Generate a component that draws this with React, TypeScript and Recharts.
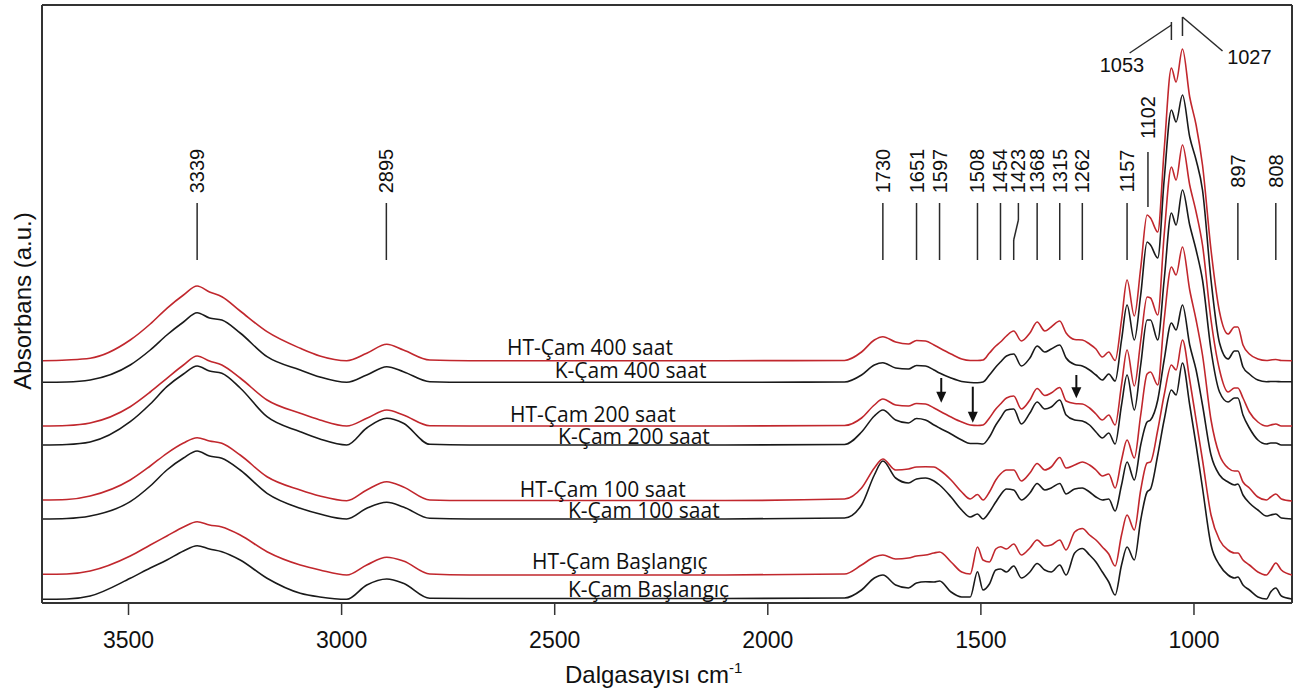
import React from 'react';
import { LineChart, Line, XAxis, YAxis, ReferenceLine, ReferenceDot, Label } from 'recharts';

// Wavenumber grid (cm-1), high to low
const wavenumbers = [3703, 3645, 3590, 3496, 3449, 3410, 3371, 3339, 3310, 3281, 3238, 3175, 3097, 3051, 2988, 2941, 2894, 2855, 2793, 2700, 2400, 2100, 1820, 1780, 1750, 1730, 1700, 1670, 1651, 1630, 1610, 1597, 1570, 1545, 1525, 1508, 1495, 1480, 1465, 1454, 1440, 1423, 1405, 1385, 1368, 1350, 1335, 1315, 1300, 1280, 1262, 1245, 1230, 1215, 1200, 1185, 1170, 1157, 1140, 1125, 1110, 1102, 1085, 1070, 1053, 1042, 1027, 1010, 995, 980, 960, 940, 920, 905, 897, 885, 870, 850, 830, 820, 808, 795, 770];

// Stacked absorbance traces (a.u., offset as in the figure)
const htCam400 = [242.3, 243, 244.7, 263, 279, 294.7, 308, 317, 311, 306.3, 292, 271.3, 254.7, 247, 242.3, 249.7, 258.7, 253, 243, 242.3, 242.3, 242.3, 242.5, 251, 263, 266.3, 261, 259, 262.5, 262, 258, 255, 249, 244, 242.5, 242.5, 243, 250, 257, 261, 267, 272, 262, 270, 281, 272, 276, 282, 270, 263.5, 263, 259, 254, 246, 251, 242.5, 283, 323, 287, 335, 388, 385, 371, 453, 535, 521, 554, 506, 478, 438, 353, 291, 269, 276, 276, 258, 249, 244, 242.5, 243, 243.5, 242.5, 242.3];
const kCam400 = [220.7, 221, 223, 238, 253, 268, 281, 290.3, 285, 283, 270, 246.3, 233, 226, 220.7, 228, 236.3, 231.3, 221.3, 220.7, 220.7, 220.7, 221, 228, 238, 240.3, 235, 234, 237.5, 237, 233, 230, 225, 221.5, 220.5, 220.3, 221, 228, 236, 241, 247, 249, 237, 245, 257, 251, 254, 258, 245, 238.5, 237, 233, 228, 223, 229, 222, 263, 298, 263, 308, 361, 358, 345, 423, 493, 481, 508, 466, 443, 413, 323, 260, 244, 252, 252, 236, 229, 223, 221.3, 221.5, 221.5, 221.3, 221.3];
const htCam200 = [177, 177.5, 180, 196.3, 211, 224.7, 238, 247, 242, 238, 225, 203, 189.7, 183, 177, 184.7, 193, 188, 177.3, 177, 177, 177, 177.5, 185, 198, 204, 198, 197, 199.5, 199, 195, 192, 186, 181, 178, 177.5, 178, 185, 194, 199, 205, 207, 194, 203, 214.5, 207.5, 210, 215.5, 202, 199.5, 199, 195, 189, 183, 188, 178, 218, 253, 217, 262, 306, 305, 288, 368, 436, 423, 458, 418, 391, 358, 283, 233, 211, 215, 215, 205, 191, 181, 177, 178, 179, 177, 177];
const kCam200 = [158, 158.5, 161, 181.3, 199, 216.3, 229, 237, 232, 229.7, 215, 186.3, 171.3, 164, 158, 175, 184.7, 179.7, 158.7, 158, 158, 158, 158.5, 171, 187, 193, 183, 180, 184.5, 183, 178, 175, 169, 163, 159.5, 159.5, 159, 166, 178, 185, 193, 194, 179, 190, 201, 194, 196, 203, 188, 183, 182, 178, 171, 165, 170, 159, 198, 228, 193, 238, 283, 283, 263, 323, 390, 378, 413, 378, 353, 323, 253, 211, 201, 205, 205, 188, 175, 163, 159, 160, 160, 158, 158];
const htCam100 = [103, 103.5, 107, 123, 137, 149.7, 160, 165.3, 162, 159.7, 148, 126.3, 113, 107, 102.3, 113, 121.3, 116, 103, 102.5, 102.5, 102.5, 104, 115, 135, 144, 133, 134, 136, 136.3, 136, 133, 123, 111, 104, 108.5, 103, 111, 123, 129, 133, 133, 122, 130, 139.5, 133, 136, 145.5, 135, 138, 141, 138, 133, 127, 129, 115, 143, 163, 145, 188, 229, 231, 218, 283, 336, 328, 356, 313, 283, 248, 183, 148, 135, 132, 132, 121, 115, 106, 103, 106, 109, 104, 102];
const kCam100 = [84, 84.5, 87, 101.3, 117, 133, 145, 152, 147, 144.7, 133, 109.7, 94.7, 89, 84, 94.7, 100.7, 96, 84.7, 84, 84, 84, 85, 98, 128, 142, 125, 120, 124, 125, 122, 118, 106, 93, 86, 89, 84, 91, 101, 108, 114, 113, 103, 110, 119.5, 113, 115, 119.5, 109, 114, 115, 111, 106, 103, 104, 92, 118, 141, 123, 158, 181, 183, 203, 243, 280, 273, 298, 258, 233, 198, 148, 128, 121, 118, 119, 108, 100, 93, 87, 88, 89, 85, 84];
const htCamStart = [28.7, 29, 32, 47, 58, 67, 76, 81.3, 78, 76, 68, 51.3, 38, 33, 28, 38, 45.7, 42, 29, 28, 28, 28, 29, 38, 46, 48, 44, 45, 47, 48, 50, 51, 41, 31, 29, 56, 43, 41, 54, 56.3, 54, 59, 48, 55, 63, 57, 58, 63, 53, 71, 74.5, 68, 63, 56, 49, 37, 68, 88, 73, 113, 140, 141, 173, 208, 238, 233, 263, 223, 183, 143, 88, 63, 53, 50, 50, 43, 38, 31, 28, 33, 40, 33, 28];
const kCamStart = [3.7, 4, 7, 24.7, 35, 43, 52, 57.3, 54, 51.3, 43, 24.7, 9.7, 6, 3.7, 18, 24, 19.7, 4.7, 4.5, 4.5, 4.5, 5, 13, 25, 28, 18, 15, 20, 21.3, 21, 22, 11, 6, 6, 31.3, 13, 19, 33, 34, 31, 37, 25, 31, 39.5, 33, 31, 38, 28, 50, 54.5, 48, 41, 31, 21, 8, 38, 56, 43, 83, 111, 114, 148, 183, 213, 208, 240, 198, 158, 115, 58, 38, 28, 25, 26, 18, 13, 6, 4, 11, 15, 7, 4];

const seriesNames = ['HT-Çam 400 saat', 'K-Çam 400 saat', 'HT-Çam 200 saat', 'K-Çam 200 saat', 'HT-Çam 100 saat', 'K-Çam 100 saat', 'HT-Çam Başlangıç', 'K-Çam Başlangıç'];
const seriesValues = [htCam400, kCam400, htCam200, kCam200, htCam100, kCam100, htCamStart, kCamStart];
// label anchor (left end of text, baseline) in data units
const seriesLabelX = [2612, 2500, 2605, 2492, 2582, 2469, 2553, 2469];
const seriesLabelY = [248, 225, 181, 159, 106, 85, 34, 6];

const xTicks = [3500, 3000, 2500, 2000, 1500, 1000];

// band markers
const markerLabels = ['3339', '2895', '1730', '1651', '1597', '1508', '1454', '1368', '1315', '1262', '1157', '897', '808'];
const markerX = [3339, 2895, 1730, 1651, 1597, 1508, 1454, 1368, 1315, 1262, 1157, 897, 808];

const RED = '#c1272d';
const BLACK = '#1a1a1a';
const INK = '#2a2a2a';
const NUM_FONT = '"Liberation Sans", Arial, Helvetica, sans-serif';

const rows = wavenumbers.map((w, i) => {
  const r: Record<string, number> = { w };
  seriesValues.forEach((s, k) => { r['s' + k] = s[i]; });
  return r;
});

const plainLine = (p: any) => (
  <line x1={p.x1} y1={p.y1} x2={p.x2} y2={p.y2} stroke={INK} strokeWidth={1.5} />
);

const arrowShape = (p: any) => {
  const { x1, y1, x2, y2 } = p;
  return (
    <g>
      <line x1={x1} y1={y1} x2={x2} y2={y2 - 8} stroke="#111" strokeWidth={2} />
      <path d={`M${x2 - 5},${y2 - 11} L${x2 + 5},${y2 - 11} L${x2},${y2} Z`} fill="#111" />
    </g>
  );
};

const rotatedText = (label: string) => (p: any) => (
  <text
    x={p.cx}
    y={p.cy}
    transform={`rotate(-90 ${p.cx} ${p.cy})`}
    textAnchor="middle"
    dominantBaseline="central"
    fontSize={20}
    fontFamily={NUM_FONT}
    fill="#111"
  >
    {label}
  </text>
);

const flatText = (label: string) => (p: any) => (
  <text x={p.cx} y={p.cy} textAnchor="middle" fontSize={20} fontFamily={NUM_FONT} fill="#111">
    {label}
  </text>
);

const seriesText = (label: string) => (p: any) => (
  <text x={p.cx} y={p.cy} textAnchor="start" fontSize={21} fontFamily='"Open Sans", "Noto Sans", sans-serif' fill="#111">
    {label}
  </text>
);

export default function App() {
  return (
    <div style={{ position: 'absolute', left: 0, top: 0, width: 1301, height: 692, background: '#fff' }}>
      <LineChart width={1301} height={692} data={rows} margin={{ top: 5, right: 9, bottom: 0, left: 0 }}>
        <XAxis
          type="number"
          dataKey="w"
          domain={[770, 3703]}
          reversed
          allowDataOverflow
          ticks={xTicks}
          interval={0}
          height={89}
          tickSize={12}
          tickMargin={17}
          tick={{ fontSize: 23, fill: '#111', fontFamily: NUM_FONT }}
          axisLine={{ stroke: '#333', strokeWidth: 2 }}
          tickLine={{ stroke: '#333', strokeWidth: 1.5 }}
        >
          <Label
            content={(props: any) => {
              const vb = props.viewBox || { x: 42, y: 603, width: 1250 };
              const x0 = vb.x + vb.width / 2 - 102;
              const y0 = vb.y + 80;
              return (
                <text x={x0} y={y0} fontSize={24} fontFamily={NUM_FONT} fill="#111">
                  Dalgasayısı cm
                  <tspan dy={-10} fontSize={15}>-1</tspan>
                </text>
              );
            }}
          />
        </XAxis>
        <YAxis
          type="number"
          domain={[0, 598]}
          allowDataOverflow
          width={42}
          tick={false}
          tickLine={false}
          axisLine={{ stroke: '#333', strokeWidth: 2 }}
        >
          <Label
            content={(props: any) => {
              const vb = props.viewBox || { x: 0, y: 5, width: 42, height: 598 };
              const cx = vb.x + 22;
              const cy = vb.y + vb.height / 2 - 3;
              return (
                <text
                  x={cx}
                  y={cy}
                  transform={`rotate(-90 ${cx} ${cy})`}
                  textAnchor="middle"
                  dominantBaseline="central"
                  fontSize={24}
                  fontFamily={NUM_FONT}
                  fill="#111"
                >
                  Absorbans (a.u.)
                </text>
              );
            }}
          />
        </YAxis>

        {/* frame: top and right */}
        <ReferenceLine y={598} stroke="#333" strokeWidth={2} />
        <ReferenceLine x={770} stroke="#333" strokeWidth={2} />

        {seriesValues.map((_, k) => (
          <Line
            key={k}
            type="monotone"
            dataKey={'s' + k}
            stroke={k % 2 === 0 ? RED : BLACK}
            strokeWidth={1.6}
            dot={false}
            activeDot={false}
            isAnimationActive={false}
          />
        ))}

        {/* band marker lines and labels */}
        {markerX.map((w, i) => (
          <ReferenceLine key={'ml' + i} segment={[{ x: w, y: 343 }, { x: w, y: 400 }]} shape={plainLine} />
        ))}
        {markerX.map((w, i) => (
          <ReferenceDot key={'mt' + i} x={w} y={432} r={0} shape={rotatedText(markerLabels[i])} />
        ))}
        {/* 1423 with bent leader */}
        <ReferenceLine segment={[{ x: 1423, y: 343 }, { x: 1423, y: 363 }]} shape={plainLine} />
        <ReferenceLine segment={[{ x: 1423, y: 363 }, { x: 1412, y: 383 }]} shape={plainLine} />
        <ReferenceLine segment={[{ x: 1412, y: 383 }, { x: 1412, y: 400 }]} shape={plainLine} />
        <ReferenceDot x={1412} y={432} r={0} shape={rotatedText('1423')} />
        {/* 1102 raised */}
        <ReferenceLine segment={[{ x: 1108, y: 396 }, { x: 1108, y: 451 }]} shape={plainLine} />
        <ReferenceDot x={1108} y={485.5} r={0} shape={rotatedText('1102')} />
        {/* 1053 / 1027 */}
        <ReferenceLine segment={[{ x: 1053, y: 563 }, { x: 1053, y: 581 }]} shape={plainLine} />
        <ReferenceLine segment={[{ x: 1053, y: 578 }, { x: 1151, y: 550 }]} shape={plainLine} />
        <ReferenceDot x={1169} y={531.3} r={0} shape={flatText('1053')} />
        <ReferenceLine segment={[{ x: 1027, y: 567 }, { x: 1027, y: 586 }]} shape={plainLine} />
        <ReferenceLine segment={[{ x: 1027, y: 586 }, { x: 933, y: 552 }]} shape={plainLine} />
        <ReferenceDot x={870} y={539} r={0} shape={flatText('1027')} />

        {/* arrows */}
        <ReferenceLine segment={[{ x: 1593, y: 225 }, { x: 1593, y: 200.3 }]} shape={arrowShape} />
        <ReferenceLine segment={[{ x: 1519, y: 216.3 }, { x: 1519, y: 180.3 }]} shape={arrowShape} />
        <ReferenceLine segment={[{ x: 1276, y: 228 }, { x: 1276, y: 204.7 }]} shape={arrowShape} />

        {/* series labels */}
        {seriesNames.map((name, k) => (
          <ReferenceDot key={'sl' + k} x={seriesLabelX[k]} y={seriesLabelY[k]} r={0} shape={seriesText(name)} />
        ))}
      </LineChart>
    </div>
  );
}
